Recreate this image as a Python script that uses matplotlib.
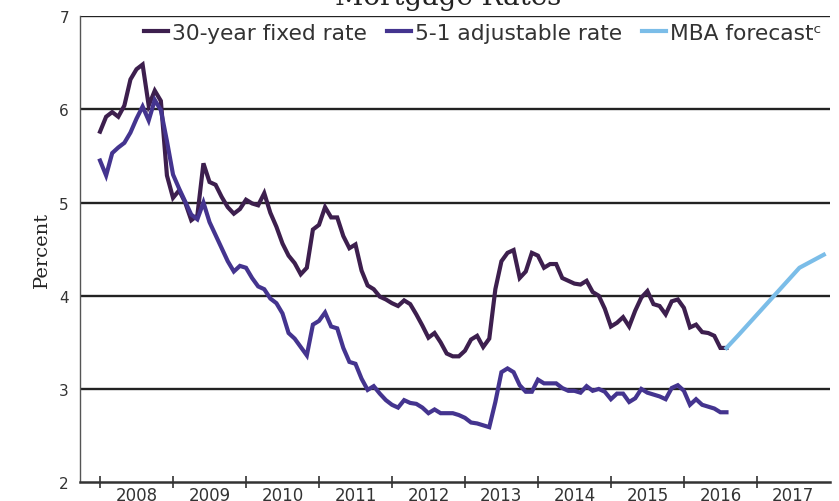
import matplotlib
matplotlib.use("Agg")
import matplotlib.pyplot as plt
import pandas as pd

# monthly observations, Jan 2008 .. Aug 2016
months = pd.date_range("2008-01-01", "2016-08-01", freq="MS")
fixed_30yr = [
    5.76, 5.92, 5.97, 5.92, 6.04, 6.32, 6.43, 6.48, 6.04, 6.20, 6.09, 5.29,
    5.05, 5.13, 5.00, 4.81, 4.86, 5.42, 5.22, 5.19, 5.06, 4.95, 4.88, 4.93,
    5.03, 4.99, 4.97, 5.10, 4.89, 4.74, 4.56, 4.43, 4.35, 4.23, 4.30, 4.71,
    4.76, 4.95, 4.84, 4.84, 4.64, 4.51, 4.55, 4.27, 4.11, 4.07, 3.99, 3.96,
    3.92, 3.89, 3.95, 3.91, 3.80, 3.68, 3.55, 3.60, 3.50, 3.38, 3.35, 3.35,
    3.41, 3.53, 3.57, 3.45, 3.54, 4.07, 4.37, 4.46, 4.49, 4.19, 4.26, 4.46,
    4.43, 4.30, 4.34, 4.34, 4.19, 4.16, 4.13, 4.12, 4.16, 4.04, 4.00, 3.86,
    3.67, 3.71, 3.77, 3.67, 3.84, 3.98, 4.05, 3.91, 3.89, 3.80, 3.94, 3.96,
    3.87, 3.66, 3.69, 3.61, 3.60, 3.57, 3.44, 3.44,
]
arm_5_1 = [
    5.45, 5.29, 5.53, 5.59, 5.64, 5.75, 5.90, 6.03, 5.88, 6.10, 5.99, 5.66,
    5.30, 5.15, 5.01, 4.87, 4.82, 5.00, 4.79, 4.65, 4.51, 4.37, 4.26, 4.32,
    4.30, 4.19, 4.10, 4.07, 3.97, 3.92, 3.81, 3.60, 3.54, 3.45, 3.36, 3.69,
    3.73, 3.82, 3.67, 3.65, 3.44, 3.29, 3.27, 3.11, 2.99, 3.03, 2.95, 2.88,
    2.83, 2.80, 2.88, 2.85, 2.84, 2.80, 2.74, 2.78, 2.74, 2.74, 2.74, 2.72,
    2.69, 2.64, 2.63, 2.61, 2.59, 2.86, 3.18, 3.22, 3.18, 3.04, 2.97, 2.97,
    3.10, 3.06, 3.06, 3.06, 3.01, 2.98, 2.98, 2.96, 3.03, 2.98, 3.00, 2.97,
    2.89, 2.95, 2.95, 2.86, 2.90, 3.00, 2.96, 2.94, 2.92, 2.89, 3.01, 3.04,
    2.98, 2.83, 2.89, 2.83, 2.81, 2.79, 2.75, 2.75,
]
forecast_dates = ["2016-08-01", "2016-10-01", "2017-08-01", "2017-12-01"]
forecast_vals = [3.44, 3.58, 4.30, 4.44]

year_labels = [str(y) for y in range(2008, 2018)]
y_ticks = [2, 3, 4, 5, 6, 7]

C_FIXED = "#3d1f4e"
C_ARM = "#44348f"
C_FCST = "#7bbde8"
TXT = "#333333"


def frac_year(dates):
    d = pd.DatetimeIndex(dates)
    return d.year + (d.month - 1) / 12.0


plt.rcParams["font.family"] = ["DejaVu Sans"]
fig = plt.figure(figsize=(8.39, 5.02), dpi=100)
ax = fig.add_axes([0.0954, 0.0375, 0.8937, 0.9285])

for y in y_ticks[1:]:
    ax.axhline(y, color="#222222", lw=1.7, zorder=1)

x = frac_year(months)
ax.plot(x, fixed_30yr, color=C_FIXED, lw=3, solid_joinstyle="miter",
        label="30-year fixed rate", zorder=3)
ax.plot(x, arm_5_1, color=C_ARM, lw=3, solid_joinstyle="miter",
        label="5-1 adjustable rate", zorder=3)
ax.plot(frac_year(forecast_dates), forecast_vals, color=C_FCST, lw=3,
        label="MBA forecast\u1d9c", zorder=3)

ax.set_xlim(2007.726, 2018.0)
ax.set_ylim(2, 7)
ax.set_yticks(y_ticks)
ax.tick_params(axis="y", length=0, pad=8, labelsize=11, labelcolor=TXT)

years = list(range(2008, 2018))
ax.set_xticks(years)
ax.set_xticklabels([])
ax.set_xticks([y + 0.5 for y in years], minor=True)
ax.set_xticklabels(year_labels, minor=True)
ax.tick_params(axis="x", which="major", direction="inout", length=9,
               width=1.2, color="#333333")
ax.tick_params(axis="x", which="minor", length=0, pad=3, labelsize=12,
               labelcolor=TXT)

for s in ("top", "right"):
    ax.spines[s].set_visible(False)
ax.spines["left"].set_color("#555555")
ax.spines["left"].set_linewidth(1.0)
ax.spines["bottom"].set_color("#333333")
ax.spines["bottom"].set_linewidth(1.8)

ax.set_ylabel("Percent", family="DejaVu Serif", fontsize=14, color="#222222",
              labelpad=6)

leg = ax.legend(loc="center", bbox_to_anchor=(0.537, 0.9637), ncol=3,
                frameon=False, fontsize=15.7, handlelength=1.1,
                handletextpad=0.2, columnspacing=0.9, borderaxespad=0.0,
                borderpad=0.0)
for t in leg.get_texts():
    t.set_color(TXT)

fig.text(0.534, 0.99, "Mortgage Rates", ha="center", va="baseline",
         family="DejaVu Serif", fontsize=20, color="#222222")

fig.savefig("out.png", dpi=100)
